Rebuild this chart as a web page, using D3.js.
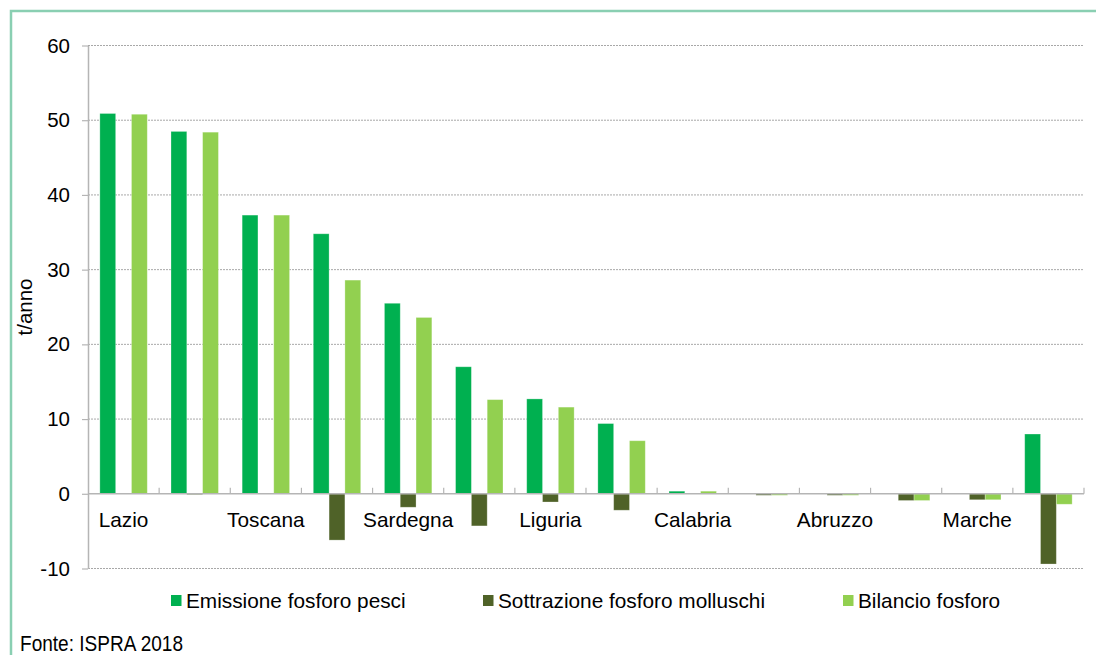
<!DOCTYPE html>
<html>
<head>
<meta charset="utf-8">
<script src="https://cdn.jsdelivr.net/npm/d3@7"></script>
<style>
  body { margin: 0; background: #fff; }
  svg { display: block; font-family: "Liberation Sans", Arial, sans-serif; }
</style>
</head>
<body>
<div id="chart"></div>
<script>
// regions (only every other label is shown, as in the original)
const regions = ["Lazio", "Sicilia", "Toscana", "Puglia", "Sardegna", "Campania", "Liguria",
    "Friuli Venezia Giulia", "Calabria", "Basilicata", "Abruzzo", "Molise", "Marche", "Emilia-Romagna"];
const emissione = [50.9, 48.5, 37.3, 34.8, 25.5, 17.0, 12.7, 9.4, 0.35, 0, 0, 0, 0, 8.0];
const sottrazione = [0, -0.1, 0, -6.2, -1.8, -4.3, -1.1, -2.2, 0, -0.2, -0.2, -0.9, -0.8, -9.4];
const bilancio = [50.8, 48.4, 37.3, 28.6, 23.6, 12.6, 11.6, 7.1, 0.35, -0.2, -0.2, -0.9, -0.8, -1.4];
const seriesNames = ["Emissione fosforo pesci", "Sottrazione fosforo molluschi", "Bilancio fosforo"];
const seriesColors = ["#00b050", "#4f6228", "#92d050"];
const yTicks = [-10, 0, 10, 20, 30, 40, 50, 60];

const W = 1096, H = 655;
const plot = {left: 88, right: 1084, top: 45.5, bottom: 568.5};

const svg = d3.select("#chart").append("svg")
    .attr("width", W).attr("height", H);

// frame
svg.append("path")
    .attr("d", `M11,${H} L11,11 L${W},11`)
    .attr("fill", "none")
    .attr("stroke", "#8acfb2")
    .attr("stroke-width", 2.5);

const x0 = d3.scaleBand().domain(regions).range([plot.left, plot.right]).paddingInner(0).paddingOuter(0);
const x1 = d3.scaleBand().domain(seriesNames).range([0, x0.bandwidth()]).paddingInner(0).paddingOuter(0.75);
const y = d3.scaleLinear().domain([-10, 60]).range([plot.bottom, plot.top]);

// gridlines
svg.append("g").selectAll("line")
    .data(yTicks.filter(d => d !== 0))
    .enter().append("line")
    .attr("x1", plot.left).attr("x2", plot.right)
    .attr("y1", d => y(d)).attr("y2", d => y(d))
    .attr("stroke", "#a8a8a8")
    .attr("stroke-width", 1)
    .attr("stroke-dasharray", "2,1");

// y axis
const yAxis = svg.append("g")
    .attr("transform", `translate(${plot.left},0)`)
    .call(d3.axisLeft(y).tickValues(yTicks).tickFormat(d => String(d))
        .tickSize(6).tickSizeOuter(0).tickPadding(12));
yAxis.select(".domain").attr("stroke", "#b5b5b5").attr("stroke-width", 1.5);
yAxis.selectAll(".tick line").attr("stroke", "#b5b5b5").attr("stroke-width", 1.2);
yAxis.selectAll(".tick text").attr("font-size", 20.5).attr("fill", "#000")
    .attr("font-family", "Liberation Sans, Arial, sans-serif");

svg.append("text")
    .attr("transform", `translate(32,${(plot.top + plot.bottom) / 2}) rotate(-90)`)
    .attr("text-anchor", "middle")
    .attr("font-size", 20.5)
    .text("t/anno");

// bars
const data = regions.map((r, i) => ({region: r, vals: [emissione[i], sottrazione[i], bilancio[i]]}));
const groups = svg.append("g").selectAll("g")
    .data(data)
    .enter().append("g")
    .attr("transform", d => `translate(${x0(d.region)},0)`);
groups.selectAll("rect")
    .data(d => d.vals.map((v, k) => ({v: v, k: k})))
    .enter().append("rect")
    .attr("x", d => x1(seriesNames[d.k]))
    .attr("width", x1.bandwidth())
    .attr("y", d => Math.min(y(d.v), y(0)))
    .attr("height", d => Math.abs(y(d.v) - y(0)))
    .attr("fill", d => seriesColors[d.k])
    .attr("stroke", "#ffffff")
    .attr("stroke-opacity", 0.35)
    .attr("stroke-width", 0.8);

// zero axis with upward ticks
svg.append("line")
    .attr("x1", plot.left).attr("x2", plot.right)
    .attr("y1", y(0)).attr("y2", y(0))
    .attr("stroke", "#b5b5b5").attr("stroke-width", 1.5);
svg.append("g").selectAll("line")
    .data(regions)
    .enter().append("line")
    .attr("x1", d => x0(d) + x0.bandwidth()).attr("x2", d => x0(d) + x0.bandwidth())
    .attr("y1", y(0)).attr("y2", y(0) - 6)
    .attr("stroke", "#b5b5b5").attr("stroke-width", 1.2);

// category labels, every other one
svg.append("g").selectAll("text")
    .data(regions.filter((d, i) => i % 2 === 0))
    .enter().append("text")
    .attr("x", d => x0(d) + x0.bandwidth() / 2)
    .attr("y", 527)
    .attr("text-anchor", "middle")
    .attr("font-size", 20.8)
    .text(d => d);

// legend
const legX = [171, 483, 843];
const legend = svg.append("g").selectAll("g")
    .data(seriesNames)
    .enter().append("g")
    .attr("transform", (d, i) => `translate(${legX[i]},0)`);
legend.append("rect")
    .attr("x", 0).attr("y", 595)
    .attr("width", 10.5).attr("height", 11)
    .attr("fill", (d, i) => seriesColors[i]);
legend.append("text")
    .attr("x", 15).attr("y", 607.5)
    .attr("font-size", 20.8)
    .text(d => d);

// source
svg.append("text")
    .attr("x", 20).attr("y", 651)
    .attr("font-size", 22)
    .attr("textLength", 163)
    .attr("lengthAdjust", "spacingAndGlyphs")
    .text("Fonte: ISPRA 2018");
</script>
</body>
</html>
